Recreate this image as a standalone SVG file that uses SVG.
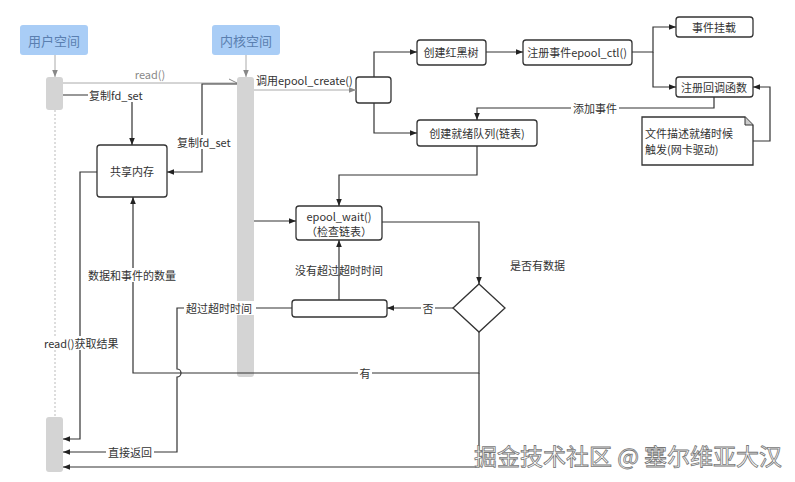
<svg xmlns="http://www.w3.org/2000/svg" width="795" height="482" viewBox="0 0 795 482">
<style>
text{font-family:"Noto Sans CJK SC","Liberation Sans",sans-serif;fill:#333;font-size:11px;dominant-baseline:central}
.c{text-anchor:middle}
.hd{font-size:13px;fill:#5a7fb0}
.box{fill:#fff;stroke:#333;stroke-width:1.3}
.bar{fill:#d4d4d4}
.ln{fill:none;stroke:#333;stroke-width:1.2}
.gl{fill:none;stroke:#aaa;stroke-width:1}
.lbl{fill:#fff}
</style>
<defs>
<marker id="a" viewBox="0 0 10 10" refX="10" refY="5" markerWidth="7" markerHeight="7" orient="auto" markerUnits="userSpaceOnUse"><path d="M0,1 L10,5 L0,9 z" fill="#222"/></marker>
<marker id="g" viewBox="0 0 10 10" refX="10" refY="5" markerWidth="7" markerHeight="7" orient="auto" markerUnits="userSpaceOnUse"><path d="M0,1 L10,5 L0,9 z" fill="#888"/></marker>
</defs>

<g id="hdr-user"><rect x="20" y="25" width="68" height="30" rx="3" fill="#a9cdf6"/><text class="c hd" x="54" y="40">用户空间</text></g>
<g id="hdr-kernel"><rect x="212" y="25" width="68" height="30" rx="3" fill="#a9cdf6"/><text class="c hd" x="246" y="40">内核空间</text></g>

<g id="lifelines">
<line x1="55" y1="110" x2="55" y2="417" stroke="#bbb" stroke-width="1" stroke-dasharray="2,2"/>
<rect class="bar" x="46" y="77" width="17" height="33" rx="3"/>
<rect class="bar" x="46" y="417" width="17" height="55" rx="3"/>
<rect class="bar" x="237" y="77" width="17" height="300" rx="3"/>
</g>

<g id="n-shm"><rect class="box" x="97" y="145" width="70" height="52" rx="3"/><text class="c" x="132" y="171">共享内存</text></g>
<g id="n-small"><rect class="box" x="356" y="77" width="35" height="26" rx="3"/></g>
<g id="n-rbt"><rect class="box" x="417" y="40" width="69" height="25" rx="3"/><text class="c" x="451" y="52">创建红黑树</text></g>
<g id="n-ctl"><rect class="box" x="523" y="40" width="109" height="25" rx="3"/><text class="c" x="577" y="52">注册事件epool_ctl()</text></g>
<g id="n-mount"><rect class="box" x="676" y="17" width="77" height="20" rx="3"/><text class="c" x="714" y="27">事件挂载</text></g>
<g id="n-cb"><rect class="box" x="676" y="77" width="77" height="20" rx="3"/><text class="c" x="714" y="87">注册回调函数</text></g>
<g id="n-ready"><rect class="box" x="417" y="120" width="120" height="26" rx="3"/><text class="c" x="477" y="133">创建就绪队列(链表)</text></g>
<g id="n-note"><path class="box" d="M642,117 H745 L753,125 V165 H642 Z"/><path d="M745,117 V125 H753" fill="#ccc" stroke="#333" stroke-width="1"/><text x="645" y="133">文件描述就绪时候</text><text x="645" y="149">触发(网卡驱动)</text></g>
<g id="n-wait"><rect class="box" x="296" y="206" width="86" height="34" rx="3"/><text class="c" x="339" y="216">epool_wait()</text><text class="c" x="339" y="231">（检查链表）</text></g>
<g id="n-diamond"><path class="box" d="M479,284 L505,308 L479,332 L453,308 Z"/></g>
<g id="n-timeout"><rect class="box" x="292" y="300" width="95" height="17" rx="3"/></g>

<g id="connectors">
<line class="gl" x1="55" y1="55" x2="55" y2="77" marker-end="url(#g)"/>
<line class="gl" x1="246" y1="55" x2="246" y2="77" marker-end="url(#g)"/>
<line class="gl" x1="63" y1="83" x2="237" y2="83"/>
<line x1="229" y1="79" x2="237" y2="83" stroke="#888" stroke-width="1"/>
<text class="c" x="150" y="74" style="fill:#888">read()</text>
<path class="ln" d="M63,95 H132 V145" marker-end="url(#a)"/>
<rect class="lbl" x="88" y="88" width="52" height="14"/>
<text x="89" y="95">复制fd_set</text>
<path class="ln" d="M237,84 H202 V172 H167" marker-end="url(#a)"/>
<rect class="lbl" x="176" y="135" width="52" height="14"/>
<text x="177" y="142">复制fd_set</text>
<line class="gl" x1="254" y1="90" x2="356" y2="90" marker-end="url(#g)"/>
<text x="256" y="80">调用epool_create()</text>
<path class="ln" d="M374,77 V52 H417" marker-end="url(#a)"/>
<path class="ln" d="M374,103 V133 H417" marker-end="url(#a)"/>
<line class="ln" x1="486" y1="52" x2="523" y2="52" marker-end="url(#a)"/>
<path class="ln" d="M632,52 H653 V27 H676" marker-end="url(#a)"/>
<path class="ln" d="M653,52 V87 H676" marker-end="url(#a)"/>
<path class="ln" d="M714,97 V108 H477 V120" marker-end="url(#a)"/>
<rect class="lbl" x="571" y="101" width="48" height="14"/>
<text class="c" x="595" y="108">添加事件</text>
<path class="ln" d="M753,141 H770 V87 H753" marker-end="url(#a)"/>
<path class="ln" d="M477,146 V175 H339 V206" marker-end="url(#a)"/>
<line class="ln" x1="254" y1="221" x2="296" y2="221" marker-end="url(#a)"/>
<path class="ln" d="M382,222 H479 V284" marker-end="url(#a)"/>
<text x="510" y="265">是否有数据</text>
<line class="ln" x1="453" y1="308" x2="387" y2="308" marker-end="url(#a)"/>
<rect class="lbl" x="421" y="301" width="14" height="14"/>
<text class="c" x="428" y="308">否</text>
<line class="ln" x1="339" y1="300" x2="339" y2="240" marker-end="url(#a)"/>
<text class="c" x="339" y="270">没有超过超时时间</text>
<path class="ln" d="M292,308 H177 V369 A4,4 0 0 1 177,377 V452 H63" marker-end="url(#a)"/>
<rect class="lbl" x="184" y="301" width="72" height="14"/>
<text x="186" y="308">超过超时时间</text>
<rect class="lbl" x="106" y="445" width="48" height="14"/>
<text class="c" x="130" y="452">直接返回</text>
<path class="ln" d="M479,332 V373 H133 V197" marker-end="url(#a)"/>
<rect class="lbl" x="358" y="366" width="14" height="14"/>
<text class="c" x="365" y="373">有</text>
<rect class="lbl" x="86" y="268" width="93" height="14"/>
<text x="88" y="275">数据和事件的数量</text>
<path class="ln" d="M479,373 V467 H63" marker-end="url(#a)"/>
<path class="ln" d="M97,172 H80 V439 H63" marker-end="url(#a)"/>
<rect class="lbl" x="43" y="336" width="75" height="14"/>
<text x="44" y="343">read()获取结果</text>
</g>

<text x="474" y="455" style="font-size:23px;fill:#fff;stroke:#777;stroke-width:0.8">掘金技术社区 @ 塞尔维亚大汉</text>
</svg>
